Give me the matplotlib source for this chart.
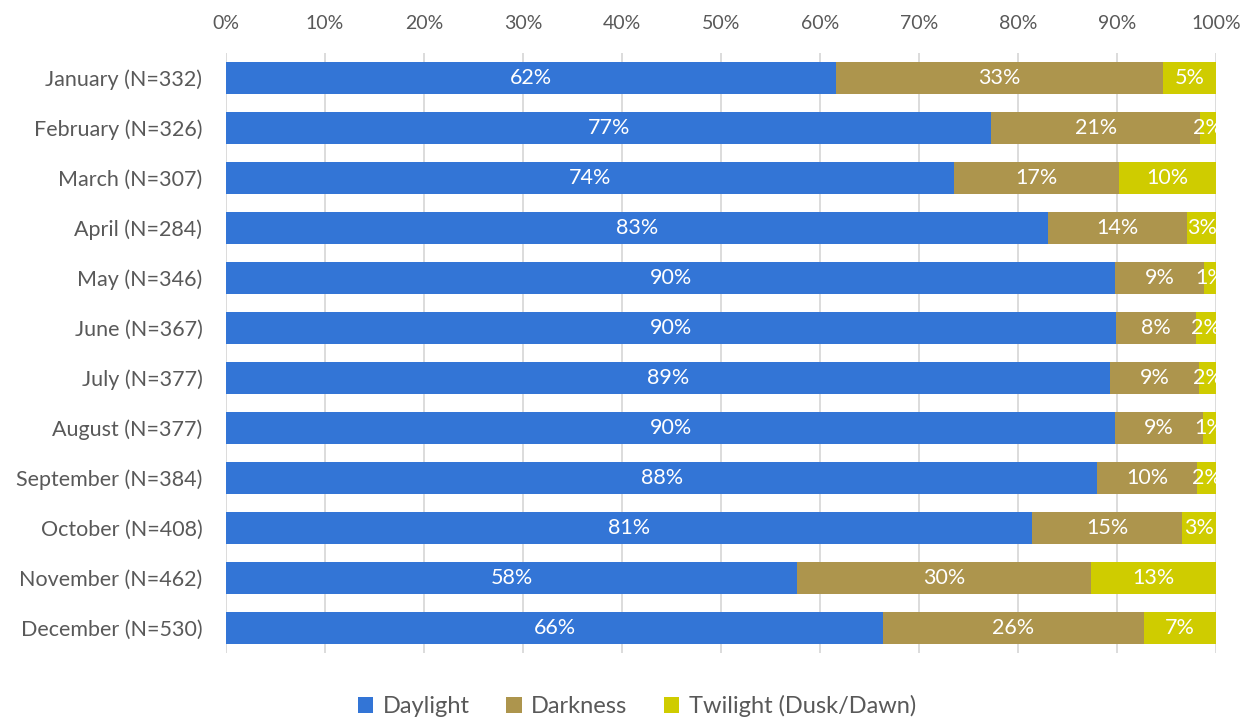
import matplotlib
matplotlib.use("Agg")
import matplotlib.pyplot as plt
import numpy as np

months = ["January (N=332)", "February (N=326)", "March (N=307)", "April (N=284)",
          "May (N=346)", "June (N=367)", "July (N=377)", "August (N=377)",
          "September (N=384)", "October (N=408)", "November (N=462)", "December (N=530)"]
daylight = [61.6, 77.3, 73.5, 83.0, 89.8, 89.9, 89.3, 89.8, 88.0, 81.4, 57.7, 66.4]
darkness = [33.0, 21.1, 16.7, 14.1, 9.0, 8.1, 9.0, 8.9, 10.1, 15.2, 29.7, 26.3]
twilight = [5.4, 1.6, 9.8, 2.9, 1.2, 2.0, 1.7, 1.3, 1.9, 3.4, 12.6, 7.3]
series_names = ["Daylight", "Darkness", "Twilight (Dusk/Dawn)"]
colors = ["#3375D6", "#AD954D", "#CFCC00"]

plt.rcParams['font.family'] = ['Lato', 'DejaVu Sans']
fig = plt.figure(figsize=(12.53, 7.21), dpi=100)
ax = fig.add_axes([226/1253, 1-653/721, 990/1253, 600/721])

y = np.arange(len(months))
left = np.zeros(len(months))
for vals, name, c in zip([daylight, darkness, twilight], series_names, colors):
    vals = np.array(vals)
    ax.barh(y, vals, left=left, height=0.64, color=c, label=name, zorder=3)
    for yi, l, v in zip(y, left, vals):
        ax.text(l + v/2, yi, f"{round(v):.0f}%", ha='center', va='center',
                color='white', fontsize=15.5, zorder=4, clip_on=True)
    left = left + vals

ax.set_xlim(0, 100)
ax.set_ylim(11.5, -0.5)
ax.set_yticks(y)
ax.set_yticklabels(months)
ax.set_xticks(np.arange(0, 101, 10))
ax.set_xticklabels([f"{t}%" for t in range(0, 101, 10)])
ax.xaxis.tick_top()
ax.tick_params(axis='both', length=0, labelcolor='#595959')
ax.tick_params(axis='x', pad=15, labelsize=14)
ax.tick_params(axis='y', pad=17, labelsize=15.5)
ax.grid(axis='x', color='#D9D9D9', linewidth=1.3, zorder=0)
for s in ax.spines.values():
    s.set_visible(False)

handles, labels = ax.get_legend_handles_labels()
fig.legend(handles, labels, loc='center', bbox_to_anchor=(637/1253, 1-706/721), ncol=3,
           frameon=False, fontsize=17, handlelength=0.65, handleheight=0.65,
           columnspacing=1.55, handletextpad=0.4, labelcolor='#595959')

fig.savefig("out.png", dpi=100)
